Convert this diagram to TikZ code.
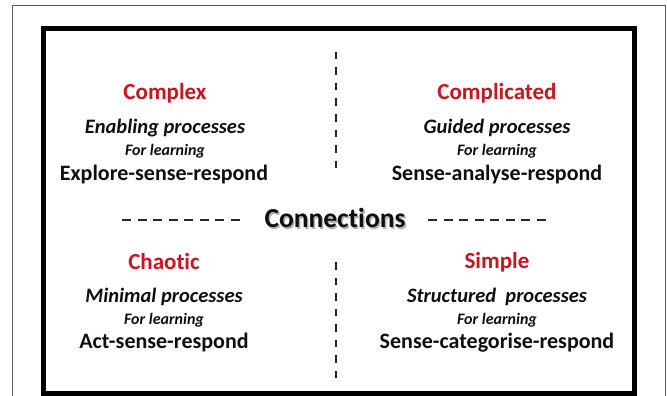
\documentclass[tikz,border=0pt]{standalone}
\usepackage{fontspec}
\setmainfont{Carlito}[Ligatures=CommonOff]
\definecolor{headred}{RGB}{200,22,32}
\definecolor{txt}{RGB}{15,15,15}
\begin{document}
\begin{tikzpicture}[x=1pt,y=-1pt,
  head/.style={font=\fontsize{23}{26}\selectfont\bfseries, text=headred, inner sep=0pt},
  proc/.style={font=\fontsize{20.5}{24}\selectfont\bfseries\itshape, text=txt, inner sep=0pt},
  forl/.style={font=\fontsize{16}{19}\selectfont\bfseries\itshape, text=txt, inner sep=0pt},
  act/.style={font=\fontsize{22}{25}\selectfont\bfseries, text=txt, inner sep=0pt},
  dashline/.style={line width=2.6pt, draw=black!85, dash pattern=on 7.5pt off 8pt}]
\useasboundingbox (0,0) rectangle (667,396);
\fill[white] (0,0) rectangle (667,396);
\draw[gray!70!black, line width=1pt] (12,6) rectangle (665,402);
\draw[black, line width=5pt] (43,29) rectangle (634,393);
% top left
\node[head] (h1) at (165,93) {Complex};
\node[proc] (p1) at (165,128) {Enabling processes};
\node[forl] (f1) at (165,151) {For learning};
\node[act] (a1) at (164,175) {Explore-sense-respond};
% top right
\node[head] (h2) at (497,93) {Complicated};
\node[proc] (p2) at (497,128) {Guided processes};
\node[forl] (f2) at (497,151) {For learning};
\node[act] (a2) at (497,175) {Sense-analyse-respond};
% middle
\node[font=\fontsize{27.5}{30}\selectfont\bfseries, text=black!30, inner sep=0pt] at (336.5,219.5) {Connections};
\node[font=\fontsize{27.5}{30}\selectfont\bfseries, text=txt, inner sep=0pt] (c) at (335,218) {Connections};
% bottom left
\node[head] (h3) at (164,262) {Chaotic};
\node[proc] (p3) at (164,297) {Minimal processes};
\node[forl] (f3) at (164,320) {For learning};
\node[act] (a3) at (164,343) {Act-sense-respond};
% bottom right
\node[head] (h4) at (497,262) {Simple};
\node[proc] (p4) at (497,297) {Structured\ \ processes};
\node[forl] (f4) at (497,320) {For learning};
\node[act] (a4) at (497,343) {Sense-categorise-respond};
% dashed lines
\coordinate (vt1) at (336,52);
\coordinate (vt2) at (336,172);
\coordinate (vb1) at (336,262);
\coordinate (vb2) at (336,384);
\coordinate (hl1) at (122,220);
\coordinate (hl2) at (245,220);
\coordinate (hr1) at (428,220);
\coordinate (hr2) at (551,220);
\draw[dashline] (vt1) -- (vt2);
\draw[dashline] (vb1) -- (vb2);
\draw[dashline, dash pattern=on 9pt off 6.5pt] (hl1) -- (hl2);
\draw[dashline, dash pattern=on 9pt off 6.5pt] (hr1) -- (hr2);
\end{tikzpicture}
\end{document}
